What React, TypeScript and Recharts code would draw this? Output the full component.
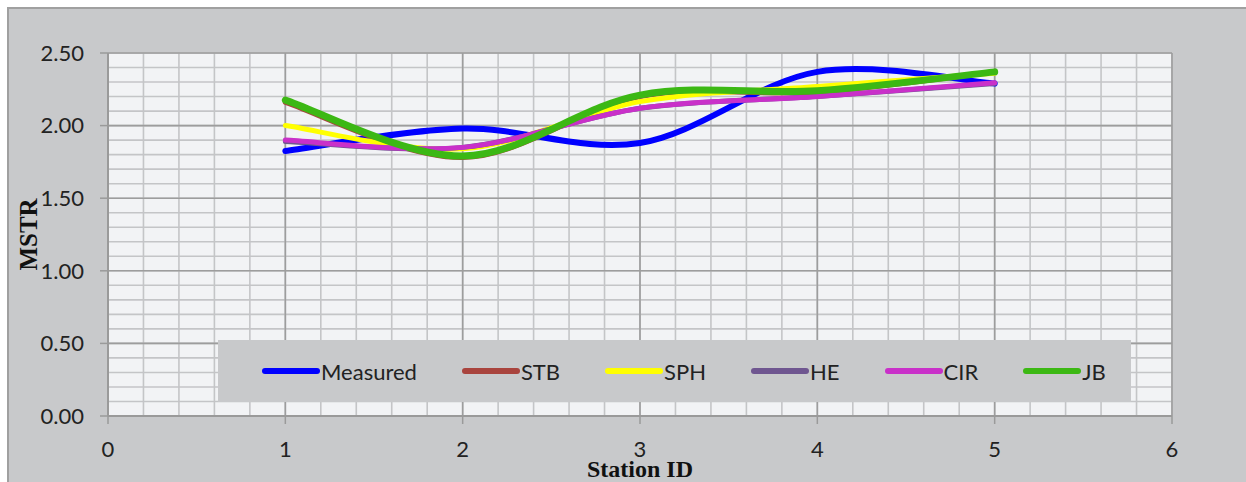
import React from "react";
import { LineChart, Line, XAxis, YAxis, CartesianGrid, Legend, Label } from "recharts";

const STATIONS = [1, 2, 3, 4, 5];
const MEASURED = [1.825, 1.98, 1.88, 2.37, 2.29];
const STB = [2.16, 1.78, 2.2, 2.23, 2.37];
const SPH = [2.0, 1.84, 2.165, 2.27, 2.36];
const HE = [1.89, 1.85, 2.12, 2.2, 2.29];
const CIR = [1.9, 1.85, 2.12, 2.2, 2.295];
const JB = [2.176, 1.79, 2.21, 2.24, 2.37];

const X_TICKS = [0, 1, 2, 3, 4, 5, 6];
const Y_TICKS = [0, 0.5, 1.0, 1.5, 2.0, 2.5];
const X_MINOR = [0, 0.2, 0.4, 0.6, 0.8, 1, 1.2, 1.4, 1.6, 1.8, 2, 2.2, 2.4, 2.6, 2.8, 3, 3.2, 3.4, 3.6, 3.8, 4, 4.2, 4.4, 4.6, 4.8, 5, 5.2, 5.4, 5.6, 5.8, 6];
const Y_MINOR = [0, 0.1, 0.2, 0.3, 0.4, 0.5, 0.6, 0.7, 0.8, 0.9, 1.0, 1.1, 1.2, 1.3, 1.4, 1.5, 1.6, 1.7, 1.8, 1.9, 2.0, 2.1, 2.2, 2.3, 2.4, 2.5];
const Y_DOMAIN = [0, 2.5];

const SERIES = [
  { key: "Measured", values: MEASURED, color: "#0000ff", width: 6 },
  { key: "STB", values: STB, color: "#a9443e", width: 5 },
  { key: "SPH", values: SPH, color: "#ffff00", width: 5 },
  { key: "HE", values: HE, color: "#6f5690", width: 5 },
  { key: "CIR", values: CIR, color: "#c930c9", width: 5 },
  { key: "JB", values: JB, color: "#3cb814", width: 7 },
];

const data = STATIONS.map((s, i) => {
  const row: any = { x: s };
  SERIES.forEach((se) => (row[se.key] = se.values[i]));
  return row;
});

// Catmull-Rom style smoothing (like spreadsheet "smoothed line")
function smoothCurve(context: any) {
  let pts: number[][] = [];
  return {
    areaStart() {},
    areaEnd() {},
    lineStart() {
      pts = [];
    },
    point(x: number, y: number) {
      pts.push([+x, +y]);
    },
    lineEnd() {
      const n = pts.length;
      if (!n) return;
      context.moveTo(pts[0][0], pts[0][1]);
      for (let i = 0; i < n - 1; i++) {
        const p0 = pts[Math.max(i - 1, 0)];
        const p1 = pts[i];
        const p2 = pts[i + 1];
        const p3 = pts[Math.min(i + 2, n - 1)];
        context.bezierCurveTo(
          p1[0] + (p2[0] - p0[0]) / 6,
          p1[1] + (p2[1] - p0[1]) / 6,
          p2[0] - (p3[0] - p1[0]) / 6,
          p2[1] - (p3[1] - p1[1]) / 6,
          p2[0],
          p2[1]
        );
      }
    },
  };
}

const minorHorizontal = (props: any) => {
  const yAxis = props && props.yAxis;
  if (yAxis && typeof yAxis.scale === "function") {
    return Y_MINOR.map((v) => yAxis.scale(v));
  }
  const off = props.offset;
  return Y_MINOR.map(
    (v) => off.top + off.height * (1 - (v - Y_DOMAIN[0]) / (Y_DOMAIN[1] - Y_DOMAIN[0]))
  );
};

const FONT = "Lato, 'Open Sans', sans-serif";
const SERIF = "'Liberation Serif', 'DejaVu Serif', serif";

const renderLegend = (props: any) => {
  const payload = [...(props.payload || [])].sort(
    (a: any, b: any) =>
      SERIES.findIndex((s) => s.key === a.value) - SERIES.findIndex((s) => s.key === b.value)
  );
  return (
    <div
      style={{
        width: "100%",
        height: "100%",
        background: "#c8c9cb",
        display: "flex",
        alignItems: "center",
        paddingLeft: 44,
        boxSizing: "border-box",
        fontFamily: FONT,
        fontSize: 22,
        color: "#222",
      }}
    >
      {payload.map((p: any, i: number) => (
        <div key={i} style={{ display: "flex", alignItems: "center", marginRight: 45 }}>
          <svg width={58} height={10} style={{ display: "block" }}>
            <line x1={3} y1={5} x2={55} y2={5} stroke={p.color} strokeWidth={6} strokeLinecap="round" />
          </svg>
          <span style={{ marginLeft: 1 }}>{p.value}</span>
        </div>
      ))}
    </div>
  );
};

export default function App() {
  return (
    <div
      style={{
        position: "absolute",
        left: 7,
        top: 7,
        width: 1239,
        height: 475,
        background: "#c8c9cb",
        borderTop: "2px solid #a0a0a0",
        borderLeft: "2px solid #a0a0a0",
        overflow: "hidden",
      }}
    >
      <LineChart width={1237} height={473} data={data} margin={{ top: 44, right: 74, left: 10, bottom: 6 }}>
        <XAxis xAxisId="minor" dataKey="x" type="number" domain={[0, 6]} ticks={X_MINOR} interval={0} hide />
        <YAxis yAxisId="minor" type="number" domain={Y_DOMAIN} ticks={Y_MINOR} interval={0} hide />
        <CartesianGrid
          xAxisId="minor"
          yAxisId="minor"
          fill="#f2f3f5"
          stroke="#c4c5c7"
          strokeWidth={1.6}
          horizontalCoordinatesGenerator={minorHorizontal}
        />
        <CartesianGrid stroke="#9d9d9d" strokeWidth={1.6} />
        <XAxis
          dataKey="x"
          type="number"
          domain={[0, 6]}
          ticks={X_TICKS}
          interval={0}
          height={60}
          tickSize={8}
          tickMargin={17}
          axisLine={{ stroke: "#9a9a9a", strokeWidth: 2 }}
          tickLine={{ stroke: "#9a9a9a", strokeWidth: 1.5 }}
          tick={{ fill: "#222", fontFamily: FONT, fontSize: 22 }}
        >
          <Label
            content={(p: any) => (
              <text
                x={p.viewBox.x + p.viewBox.width / 2}
                y={468}
                textAnchor="middle"
                fontFamily={SERIF}
                fontWeight="bold"
                fontSize={24}
                fill="#111"
              >
                Station ID
              </text>
            )}
          />
        </XAxis>
        <YAxis
          type="number"
          domain={Y_DOMAIN}
          ticks={Y_TICKS}
          interval={0}
          width={89}
          tickSize={8}
          tickMargin={16}
          tickFormatter={(v: number) => v.toFixed(2)}
          axisLine={{ stroke: "#9a9a9a", strokeWidth: 2 }}
          tickLine={{ stroke: "#9a9a9a", strokeWidth: 1.5 }}
          tick={{ fill: "#222", fontFamily: FONT, fontSize: 22 }}
        >
          <Label
            content={(p: any) => {
              const cx = 28;
              const cy = p.viewBox.y + p.viewBox.height / 2;
              return (
                <text
                  x={cx}
                  y={cy}
                  transform={`rotate(-90, ${cx}, ${cy})`}
                  textAnchor="middle"
                  fontFamily={SERIF}
                  fontWeight="bold"
                  fontSize={25}
                  fill="#111"
                >
                  MSTR
                </text>
              );
            }}
          />
        </YAxis>
        <Legend
          layout="horizontal"
          verticalAlign="middle"
          align="center"
          content={renderLegend}
          wrapperStyle={{ left: 209, top: 331, width: 913, height: 62 }}
        />
        {SERIES.map((s) => (
          <Line
            key={s.key}
            dataKey={s.key}
            name={s.key}
            type={smoothCurve as any}
            stroke={s.color}
            strokeWidth={s.width}
            strokeLinecap="round"
            dot={false}
            activeDot={false}
            isAnimationActive={false}
          />
        ))}
      </LineChart>
    </div>
  );
}
